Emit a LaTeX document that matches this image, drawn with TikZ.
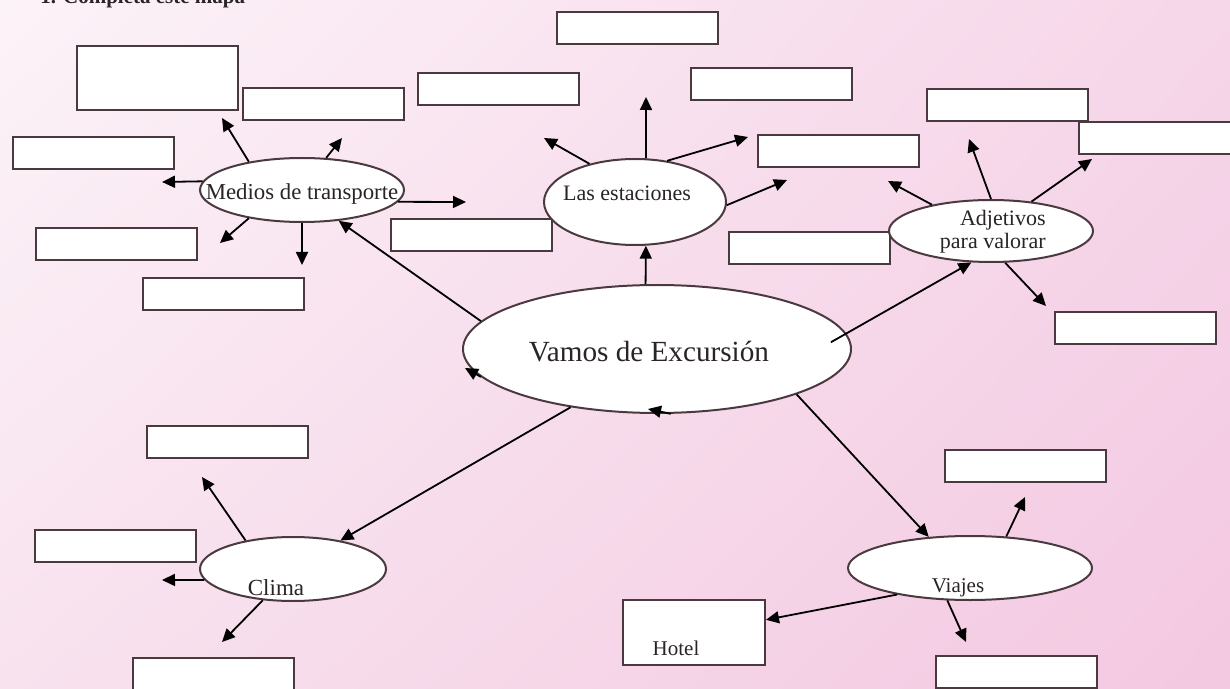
\documentclass[tikz,border=0pt]{standalone}
\usepackage{fontspec}
\setmainfont{Liberation Serif}
\usetikzlibrary{arrows.meta,shapes.geometric,shadings}
\definecolor{edge}{HTML}{4A3A40}
\definecolor{ink}{HTML}{2A2426}
\definecolor{bgul}{HTML}{FCF3F8}
\definecolor{bgur}{HTML}{F6D6E9}
\definecolor{bgll}{HTML}{F8E2EE}
\definecolor{bglr}{HTML}{F3C8E1}

\begin{document}
\begin{tikzpicture}[x=.5pt,y=-.5pt,
 box/.style={draw=edge,fill=white,line width=1pt,minimum width=80.5pt,minimum height=16pt,inner sep=0pt},
 blob/.style={ellipse,draw=edge,fill=white,line width=1pt,inner sep=0pt},
 lbl/.style={text=ink,inner sep=0pt,font=\fontsize{11}{11.5}\selectfont},
 arr/.style={-{Triangle[length=6.5pt,width=6pt]},line width=.9pt,draw=black}]
\useasboundingbox (0,0) rectangle (1230,689);
\shade[upper left=bgul,upper right=bgur,lower left=bgll,lower right=bglr] (0,0) rectangle (1230,689);
\node[lbl,anchor=base west,font=\bfseries\fontsize{10.5}{12}\selectfont] (ttl) at (40,4) {1. Completa este mapa};

% empty boxes
\node[box,minimum height=32pt] (b1) at (157,78) {};
\node[box] (b2) at (323.5,104.5) {};
\node[box] (b3) at (93.5,153) {};
\node[box] (b4) at (116.5,244.5) {};
\node[box] (b5) at (223,294) {};
\node[box] (b6) at (498.5,89.5) {};
\node[box] (b7) at (637,28.5) {};
\node[box] (b8) at (771,84.5) {};
\node[box] (b9) at (838.5,151) {};
\node[box] (b10) at (471.5,235.5) {};
\node[box] (b11) at (809,248) {};
\node[box] (b12) at (1007,105) {};
\node[box] (b13) at (1159,138) {};
\node[box] (b14) at (1135.5,328) {};
\node[box] (b15) at (227.5,442) {};
\node[box] (b16) at (115,546) {};
\node[box] (b17) at (213.5,674) {};
\node[box] (b18) at (1025.5,466) {};
\node[box] (b19) at (1016,672) {};
\node[box,minimum width=71pt,minimum height=32.5pt] (hotel) at (694,632.5) {};

% ellipses
\node[blob,minimum width=102pt,minimum height=32pt] (med) at (302,190) {};
\node[blob,minimum width=91pt,minimum height=43pt] (est) at (635,202) {};
\node[blob,minimum width=102pt,minimum height=31pt] (adj) at (991,231) {};
\node[blob,minimum width=194pt,minimum height=64pt] (main) at (657,349) {};
\node[blob,minimum width=93pt,minimum height=32pt] (clima) at (293,569) {};
\node[blob,minimum width=122pt,minimum height=32pt] (viaj) at (970,568) {};

\node[lbl,font=\fontsize{11.4}{12}\selectfont] (medt) at (302,194) {Medios de transporte};
\node[lbl] (estt) at (627,193) {Las estaciones};
\node[lbl,anchor=east,align=right] (adjt) at (1046,232) {Adjetivos\\para valorar};
\node[lbl,font=\fontsize{14.6}{16}\selectfont] (maint) at (649,352) {Vamos de Excursión};
\node[lbl,font=\fontsize{11.5}{12}\selectfont] (climat) at (276,588) {Clima};
\node[lbl,font=\fontsize{10.5}{12}\selectfont] (viajt) at (958,588) {Viajes};
\node[lbl,font=\fontsize{10.5}{12}\selectfont] (hotelt) at (676,648) {Hotel};

% arrow ends
\coordinate (m1) at (222,118); \coordinate (m2) at (342,138);
\coordinate (m3) at (162,182); \coordinate (m4) at (220,243);
\coordinate (m5) at (302,265); \coordinate (m6) at (466,202);
\coordinate (e1) at (646,97); \coordinate (e2) at (544,138);
\coordinate (e3) at (748,137); \coordinate (e4) at (787,180);
\coordinate (a1) at (888,181); \coordinate (a2) at (969,139);
\coordinate (a3) at (1092,159); \coordinate (a4) at (1046,306);
\coordinate (c1) at (202,477); \coordinate (c2) at (162,580);
\coordinate (c3) at (222,642);
\coordinate (v1) at (1025,497); \coordinate (v2) at (966,642);
\coordinate (lt) at (465,368); \coordinate (bt) at (648,409);

\draw[arr] (med.152)--(m1); \draw[arr] (med.53)--(m2); \draw[arr] (med.175)--(m3);
\draw[arr] (med.208)--(m4); \draw[arr] (med.270)--(m5); \draw[arr] (med.353)--(m6);
\draw[arr] (est.76)--(e1); \draw[arr] (est.140)--(e2); \draw[arr] (est.52)--(e3);
\draw[arr] (est.358)--(e4);
\draw[arr] (adj.156)--(a1); \draw[arr] (adj.90)--(a2); \draw[arr] (adj.36)--(a3);
\draw[arr] (adj.294)--(a4);
\draw[arr] (clima.149)--(c1); \draw[arr] (clima.187)--(c2); \draw[arr] (clima.226)--(c3);
\draw[arr] (viaj.41)--(v1); \draw[arr] (viaj.235)--(v2); \draw[arr] (viaj.200)--(hotel.10);
\draw[arr] (main.171)--(med.320); \draw[arr] (main.100)--(est.284);
\draw[arr] ([xshift=-10pt]main.2)--(adj.238);
\draw[arr] (main.214)--(clima.31); \draw[arr] (main.342)--(viaj.143);
\draw[arr] (main.189)--(lt); \draw[arr] (main.282)--(bt);
\end{tikzpicture}
\end{document}
